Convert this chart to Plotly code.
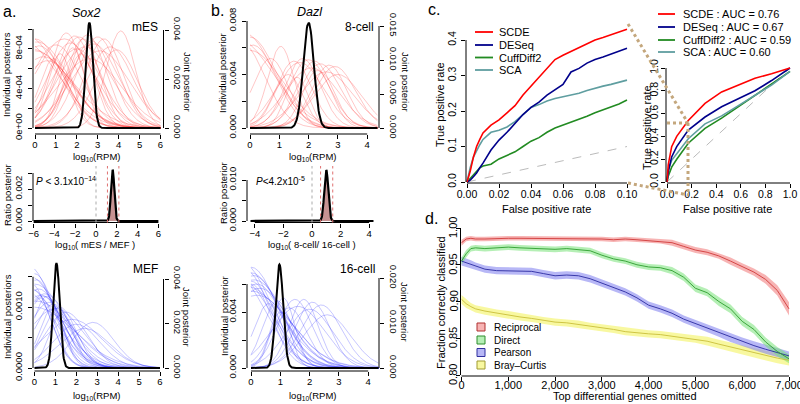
import numpy as np
import plotly.graph_objects as go

W, H = 800, 404
FONT = "Liberation Sans, Arial, Helvetica, sans-serif"

# ======================= DATA =======================
# Panel a: Sox2, individual-cell posteriors (mode, spread, peak height) on log10(RPM)
mes_mode = [-0.3, 0.0, 0.1, -0.6, 0.2, -0.2, 0.0, 0.4, 0.6, 1.5, 1.9, 2.1, 2.3, 2.5, 2.7, 3.0,
            3.3, 4.1, 1.2, 0.9, 2.0, 2.4, 1.7, 2.8, 3.6, 2.2, 1.4, 3.1, 2.6, 1.0, 3.9, 1.8]
mes_sd = [1.4, 1.3, 1.5, 1.7, 1.2, 1.9, 1.6, 1.4, 1.3, 0.8, 0.9, 1.0, 0.8, 0.9, 1.0, 1.0,
          0.9, 0.7, 0.6, 0.7, 1.2, 1.3, 1.1, 1.2, 1.1, 0.7, 1.4, 1.4, 1.5, 1.2, 1.0, 0.6]
mes_height = [0.00092, 0.00090, 0.00087, 0.00088, 0.00083, 0.00080, 0.00078, 0.00072, 0.00068,
              0.00096, 0.00093, 0.00092, 0.00090, 0.00094, 0.00088, 0.00092, 0.00090, 0.00098,
              0.00075, 0.00070, 0.00080, 0.00082, 0.00086, 0.00085, 0.00082, 0.00075, 0.00090,
              0.00078, 0.00070, 0.00084, 0.00079, 0.00081]

mef_mode = [-0.3, 0.0, -0.2, 0.1, 0.0, -0.5, 0.2, 0.0, -0.4, 0.3, 0.0, 0.1, -0.2, 0.4,
            0.6, 0.9, 1.2, 1.5, 1.0, 0.8, 2.0, 2.8, 1.8, 0.5, 2.4, 1.3, 0.3, 0.7]
mef_sd = [1.2, 1.0, 1.3, 0.9, 1.5, 1.6, 1.1, 0.8, 1.4, 1.2, 1.9, 1.7, 0.9, 1.0,
          0.7, 0.9, 0.8, 1.0, 1.3, 0.6, 1.1, 1.0, 1.4, 1.2, 1.2, 0.6, 0.7, 1.0]
mef_height = [0.00168, 0.00155, 0.00150, 0.00145, 0.00138, 0.00135, 0.00130, 0.00128, 0.00125,
              0.00120, 0.00100, 0.00110, 0.00140, 0.00118, 0.00118, 0.00105, 0.00100, 0.00092,
              0.00098, 0.00095, 0.00072, 0.00075, 0.00080, 0.00122, 0.00065, 0.00088, 0.00115,
              0.00108]

# Panel b: Dazl
c8_mode = [-0.2, 0.0, -0.4, 0.1, 0.0, -0.3, 1.05, 1.5, 1.8, 2.0, 2.2, 2.4, 2.7, 2.9, 1.7,
           2.1, 2.6, 1.3, 3.0, 0.7, 2.3, 1.6]
c8_sd = [1.0, 0.9, 1.2, 0.8, 1.1, 0.8, 0.45, 0.6, 0.6, 0.7, 0.6, 0.7, 0.6, 0.7, 0.8,
         0.9, 0.9, 0.5, 0.8, 0.6, 0.5, 0.4]
c8_height = [0.0071, 0.0068, 0.0066, 0.0062, 0.0058, 0.0064, 0.0061, 0.0050, 0.0052, 0.0051,
             0.0050, 0.0048, 0.0047, 0.0046, 0.0049, 0.0045, 0.0042, 0.0040, 0.0040, 0.0052,
             0.0043, 0.0038]

c16_mode = [-0.3, 0.0, -0.2, 0.0, 0.1, -0.4, 0.0, 0.2, -0.1, 0.0, 0.3, -0.5, 0.1, 0.0, 0.2,
            1.1, 1.5, 1.8, 2.1, 2.4, 1.3, 1.0, 2.0, 2.6, 0.6, 1.6, 0.9]
c16_sd = [1.0, 0.9, 0.85, 1.0, 0.95, 1.1, 0.8, 0.9, 1.2, 1.3, 1.0, 1.0, 1.1, 0.7, 1.2,
          0.4, 0.6, 0.5, 0.6, 0.7, 0.6, 0.35, 0.8, 0.8, 0.5, 0.9, 0.5]
c16_height = [0.0075, 0.0072, 0.0070, 0.0068, 0.0066, 0.0064, 0.0062, 0.0060, 0.0058, 0.0055,
              0.0057, 0.0066, 0.0063, 0.0060, 0.0052, 0.0050, 0.0049, 0.0049, 0.0047, 0.0045,
              0.0043, 0.0040, 0.0042, 0.0038, 0.0046, 0.0044, 0.0048]

# joint posteriors: mES, MEF, 8-cell, 16-cell
joint_mode = [2.6, 1.05, 2.0, 0.97]
joint_sd = [0.17, 0.16, 0.18, 0.13]
joint_height = [0.0043, 0.0047, 0.0155, 0.023]

# ratio posteriors: Sox2 (mES/MEF), Dazl (8-cell/16-cell)
ratio_mode = [1.6, 1.0]
ratio_sd = [0.16, 0.14]
ratio_height = [0.0032, 0.0124]
ratio_ci_low = [1.1, 0.6]
ratio_ci_high = [2.2, 1.45]
ratio_p = ["<i>P</i> < 3.1x10<sup>\u221214</sup>", "<i>P</i><4.2x10<sup>-5</sup>"]

# Panel c: ROC
methods = ["SCDE", "DESeq", "CuffDiff2", "SCA"]
auc = ["0.76", "0.67", "0.59", "0.60"]
fpr_zoom = [0, 0.002, 0.004, 0.006, 0.008, 0.01, 0.015, 0.02, 0.025, 0.03, 0.035, 0.04,
            0.045, 0.05, 0.055, 0.06, 0.065, 0.07, 0.075, 0.08, 0.085, 0.09, 0.095, 0.10]
tpr_zoom_scde = [0, 0.03, 0.07, 0.10, 0.12, 0.138, 0.16, 0.175, 0.195, 0.215, 0.245, 0.27,
                 0.295, 0.32, 0.345, 0.357, 0.368, 0.378, 0.39, 0.40, 0.407, 0.415, 0.422, 0.43]
tpr_zoom_deseq = [0, 0.005, 0.015, 0.025, 0.04, 0.053, 0.09, 0.118, 0.14, 0.165, 0.19, 0.21,
                  0.225, 0.245, 0.26, 0.275, 0.31, 0.32, 0.335, 0.345, 0.352, 0.36, 0.368, 0.377]
tpr_zoom_cuff = [0, 0.01, 0.02, 0.03, 0.04, 0.045, 0.05, 0.065, 0.075, 0.085, 0.10, 0.115,
                 0.125, 0.14, 0.152, 0.16, 0.168, 0.175, 0.185, 0.195, 0.203, 0.21, 0.22, 0.231]
tpr_zoom_sca = [0, 0.04, 0.07, 0.09, 0.105, 0.12, 0.14, 0.146, 0.155, 0.17, 0.19, 0.21,
                0.218, 0.228, 0.235, 0.24, 0.245, 0.25, 0.258, 0.265, 0.27, 0.275, 0.281, 0.287]
fpr_full = [0, 0.01, 0.038, 0.079, 0.173, 0.309, 0.444, 0.58, 0.715, 0.85, 1.0]
tpr_full_scde = [0, 0.15, 0.31, 0.40, 0.54, 0.69, 0.79, 0.85, 0.91, 0.95, 1.0]
tpr_full_deseq = [0, 0.09, 0.22, 0.31, 0.456, 0.57, 0.66, 0.73, 0.80, 0.89, 1.0]
tpr_full_cuff = [0, 0.05, 0.13, 0.20, 0.34, 0.47, 0.56, 0.66, 0.76, 0.86, 0.97]
tpr_full_sca = [0, 0.10, 0.19, 0.25, 0.38, 0.51, 0.58, 0.67, 0.76, 0.85, 0.97]

# Panel d
d_names = ["Reciprocal", "Direct", "Pearson", "Bray\u2013Curtis"]
d_yticks = [0.80, 0.85, 0.90, 0.95, 1.00]
d_yticklabels = ["0.80", "0.85", "0.90", "0.95", "1.00"]
d_genes = [0, 100, 200, 300, 500, 750, 1000, 1250, 1500, 1750, 2000, 2250, 2500, 2750, 3000,
           3250, 3500, 3750, 4000, 4250, 4500, 4750, 5000, 5250, 5500, 5750, 6000, 6250, 6500,
           6750, 7000]
recip_mean = [0.980, 0.985, 0.986, 0.985, 0.985, 0.986, 0.986, 0.986, 0.986, 0.986,
              0.986, 0.986, 0.986, 0.986, 0.985, 0.984, 0.985, 0.984, 0.983, 0.982,
              0.980, 0.975, 0.970, 0.967, 0.962, 0.955, 0.947, 0.940, 0.930, 0.915,
              0.890]
recip_hw = [0.004, 0.003, 0.003, 0.003, 0.003, 0.003, 0.003, 0.003, 0.003, 0.003,
            0.003, 0.003, 0.003, 0.003, 0.003, 0.003, 0.003, 0.003, 0.003, 0.003,
            0.004, 0.004, 0.004, 0.004, 0.004, 0.005, 0.005, 0.005, 0.006, 0.007,
            0.009]
direct_mean = [0.955, 0.965, 0.972, 0.973, 0.972, 0.973, 0.974, 0.973, 0.972, 0.971,
               0.971, 0.972, 0.970, 0.969, 0.963, 0.958, 0.955, 0.950, 0.947, 0.946,
               0.942, 0.933, 0.918, 0.912, 0.900, 0.890, 0.873, 0.862, 0.845, 0.832,
               0.822]
direct_hw = [0.005, 0.005, 0.004, 0.004, 0.004, 0.004, 0.004, 0.004, 0.004, 0.004,
             0.004, 0.004, 0.004, 0.004, 0.004, 0.004, 0.004, 0.004, 0.004, 0.004,
             0.005, 0.005, 0.005, 0.005, 0.006, 0.006, 0.006, 0.006, 0.006, 0.006,
             0.006]
pearson_mean = [0.955, 0.953, 0.950, 0.948, 0.944, 0.942, 0.942, 0.941, 0.941, 0.938,
                0.935, 0.936, 0.935, 0.931, 0.925, 0.920, 0.913, 0.905, 0.895, 0.890,
                0.884, 0.876, 0.870, 0.863, 0.857, 0.851, 0.845, 0.840, 0.835, 0.830,
                0.826]
pearson_hw = [0.006, 0.006, 0.006, 0.005, 0.005, 0.005, 0.005, 0.005, 0.005, 0.005,
              0.005, 0.005, 0.005, 0.005, 0.005, 0.005, 0.005, 0.005, 0.005, 0.005,
              0.005, 0.005, 0.005, 0.005, 0.005, 0.006, 0.006, 0.006, 0.006, 0.006,
              0.006]
bray_mean = [0.903, 0.897, 0.893, 0.890, 0.887, 0.884, 0.882, 0.879, 0.877, 0.874,
             0.872, 0.871, 0.869, 0.866, 0.864, 0.862, 0.859, 0.857, 0.856, 0.855,
             0.853, 0.851, 0.849, 0.846, 0.842, 0.838, 0.834, 0.830, 0.826, 0.823,
             0.820]
bray_hw = [0.006, 0.006, 0.005, 0.005, 0.005, 0.005, 0.005, 0.005, 0.005, 0.005,
           0.005, 0.005, 0.005, 0.005, 0.005, 0.005, 0.005, 0.005, 0.005, 0.005,
           0.005, 0.005, 0.005, 0.006, 0.006, 0.006, 0.006, 0.006, 0.007, 0.007,
           0.007]

# ======================= helpers =======================
layout = dict(template="none", width=W, height=H, autosize=False,
              margin=dict(l=0, r=0, t=0, b=0, pad=0), paper_bgcolor="white",
              plot_bgcolor="rgba(0,0,0,0)", showlegend=False,
              font=dict(family=FONT, size=10, color="black"))
shapes, annotations, traces = [], [], []


def lin(pa, va, pb, vb):
    return lambda p: va + (p - pa) * (vb - va) / (pb - pa)


def fx(p):
    return p / W


def fy(p):
    return 1 - p / H


def xr(n):
    return "x" if n == 1 else f"x{n}"


def yr(n):
    return "y" if n == 1 else f"y{n}"


AX = dict(showgrid=False, zeroline=False, showline=False, ticks="outside", ticklen=4,
          tickwidth=1, tickcolor="black", color="black", tickmode="array", automargin=False,
          ticklabeloverflow="allow")


def split_ticks(tickvals, ticktext):
    major = [(v, t) for v, t in zip(tickvals, ticktext) if t != ""]
    minor = [v for v, t in zip(tickvals, ticktext) if t == ""]
    return [v for v, _ in major], [t for _, t in major], minor


def add_x(n, x0, x1, ybot, anchor, cal, tickvals, ticktext, size=9.5, standoff=-2):
    f = lin(*cal)
    layout["xaxis" if n == 1 else f"xaxis{n}"] = dict(
        AX, domain=[fx(x0), fx(x1)], range=[f(x0), f(x1)], anchor=yr(anchor),
        tickvals=tickvals, ticktext=ticktext, ticklabelstandoff=standoff,
        tickfont=dict(family=FONT, size=size, color="black"))
    shapes.append(dict(type="line", xref=xr(n), yref="paper", x0=tickvals[0], x1=tickvals[-1],
                       y0=fy(ybot), y1=fy(ybot), line=dict(color="black", width=1)))


def add_y(n, ytop, ybot, xpos, anchor, cal, tickvals, ticktext, side="left", overlay=None,
          size=9.5, standoff=2, labels=True):
    f = lin(*cal)
    mv, mt, mn = split_ticks(tickvals, ticktext)
    d = dict(AX, domain=[fy(ybot), fy(ytop)], range=[f(ybot), f(ytop)], anchor=xr(anchor),
             side=side, tickvals=mv, ticktext=mt, ticklabelstandoff=standoff,
             tickangle=-90 if side == "left" else 90, showticklabels=labels,
             tickfont=dict(family=FONT, size=size, color="black"))
    if mn:
        d["minor"] = dict(tickmode="array", tickvals=mn, ticks="outside", ticklen=4,
                          tickwidth=1, tickcolor="black", showgrid=False)
    if overlay:
        d["overlaying"] = yr(overlay)
    layout["yaxis" if n == 1 else f"yaxis{n}"] = d
    shapes.append(dict(type="line", xref="paper", yref=yr(n), x0=fx(xpos), x1=fx(xpos),
                       y0=tickvals[0], y1=tickvals[-1], line=dict(color="black", width=1)))


def text(s, x, y, size=10, angle=0, xanchor="center", yanchor="middle"):
    annotations.append(dict(text=s, x=fx(x), y=fy(y), xref="paper", yref="paper",
                            showarrow=False, textangle=angle, xanchor=xanchor,
                            yanchor=yanchor, borderpad=0,
                            font=dict(family=FONT, size=size, color="black")))


def bump(grid, m, s, h):
    return h * np.exp(-0.5 * ((grid - m) / s) ** 2)


def curves(grid, modes, sds, heights, color, xa, ya):
    for m, s, h in zip(modes, sds, heights):
        traces.append(go.Scatter(x=grid, y=bump(grid, m, s, h), mode="lines",
                                 line=dict(color=color, width=0.8), xaxis=xr(xa),
                                 yaxis=yr(ya), hoverinfo="skip"))


def joint(grid, i, xa, ya):
    traces.append(go.Scatter(x=grid, y=bump(grid, joint_mode[i], joint_sd[i], joint_height[i]),
                             mode="lines", line=dict(color="black", width=2),
                             xaxis=xr(xa), yaxis=yr(ya), hoverinfo="skip"))


RED = "rgba(255,20,20,0.30)"
BLUE = "rgba(20,20,255,0.30)"
MINUS = "\u2212"

# ======================= panel a =======================
grid_a = np.linspace(0, 6, 301)
add_x(1, 33, 163.5, 134, 1, (35, 0, 160.5, 6), list(range(7)), [str(v) for v in range(7)])
add_y(1, 19, 134, 33, 1, (128, 0, 29, 0.001), [0, 2e-4, 4e-4, 6e-4, 8e-4, 1e-3],
      ["0e+00", "", "4e-04", "", "8e-04", ""])
add_y(2, 19, 134, 163.5, 1, (128, 0, 30, 0.004), [0, 0.002, 0.004],
      ["0.000", "0.002", "0.004"], side="right", overlay=1)
curves(grid_a, mes_mode, mes_sd, mes_height, RED, 1, 1)
joint(grid_a, 0, 1, 2)
add_x(2, 33, 163.5, 222.5, 3, (96, 0, 158.4, 6), [-6, -4, -2, 0, 2, 4, 6],
      [MINUS + "6", MINUS + "4", MINUS + "2", "0", "2", "4", "6"])
add_y(3, 166, 222.5, 33, 2, (221, 0, 189, 0.002), [0, 0.001, 0.002, 0.003],
      ["0.000", "", "0.002", ""])
add_x(3, 33, 163.5, 371, 4, (34.5, 0, 160, 6), list(range(7)), [str(v) for v in range(7)])
add_y(4, 256, 371, 33, 3, (368, 0, 276.75, 0.0015), [0, 0.0005, 0.001, 0.0015],
      ["0.0000", "", "0.0010", ""])
add_y(5, 256, 371, 163.5, 3, (368, 0, 279, 0.004), [0, 0.002, 0.004],
      ["0.000", "0.002", "0.004"], side="right", overlay=4)
curves(grid_a, mef_mode, mef_sd, mef_height, BLUE, 3, 4)
joint(grid_a, 1, 3, 5)

# ======================= panel b =======================
grid_b = np.linspace(0, 4.35, 261)
add_x(4, 247, 379, 134, 6, (250, 0, 367.2, 4), [0, 1, 2, 3, 4], ["0", "1", "2", "3", "4"])
add_y(6, 19, 134, 247, 4, (128, 0, 21, 0.008), [0, 0.002, 0.004, 0.006, 0.008],
      ["0.000", "", "0.004", "", "0.008"])
add_y(7, 19, 134, 379, 4, (128, 0, 26, 0.015), [0, 0.005, 0.010, 0.015],
      ["0.000", "0.005", "0.010", "0.015"], side="right", overlay=6)
curves(grid_b, c8_mode, c8_sd, c8_height, RED, 4, 6)
joint(grid_b, 2, 4, 7)
add_x(5, 247, 379, 222.5, 8, (312, 0, 340.6, 2), [-4, -2, 0, 2, 4],
      [MINUS + "4", MINUS + "2", "0", "2", "4"])
add_y(8, 166, 222.5, 247, 5, (221, 0, 180, 0.010), [0, 0.005, 0.010],
      ["0.000", "", "0.010"])
add_x(6, 247, 379, 371, 9, (251, 0, 368.2, 4), [0, 1, 2, 3, 4], ["0", "1", "2", "3", "4"])
add_y(9, 256, 371, 247, 6, (368, 0, 312, 0.004), [0, 0.002, 0.004, 0.006],
      ["0.000", "", "0.004", ""])
add_y(10, 256, 371, 379, 6, (368, 0, 323, 0.010), [0, 0.010, 0.020],
      ["0.000", "0.010", "0.020"], side="right", overlay=9)
curves(grid_b, c16_mode, c16_sd, c16_height, BLUE, 6, 9)
joint(grid_b, 3, 6, 10)

ratio_axes = [(2, 3, np.linspace(-6, 6, 601)), (5, 8, np.linspace(-4.3, 4.3, 431))]
ratio_pos = [(35, 181), (255, 181)]
for i, (xa, ya, g) in enumerate(ratio_axes):
    yv = bump(g, ratio_mode[i], ratio_sd[i], ratio_height[i])
    sel = (g >= ratio_ci_low[i]) & (g <= ratio_ci_high[i])
    traces.append(go.Scatter(x=g[sel], y=yv[sel], mode="lines", line=dict(width=0),
                             fill="tozeroy", fillcolor="rgba(196,140,140,0.95)",
                             xaxis=xr(xa), yaxis=yr(ya), hoverinfo="skip"))
    traces.append(go.Scatter(x=g, y=yv, mode="lines", line=dict(color="black", width=2.2),
                             xaxis=xr(xa), yaxis=yr(ya), hoverinfo="skip"))
    for xv, col in [(0, "#AAAAAA"), (ratio_ci_low[i], "#E07070"), (ratio_ci_high[i], "#E07070")]:
        shapes.append(dict(type="line", xref=xr(xa), yref="paper", x0=xv, x1=xv,
                           y0=fy(222.5), y1=fy(166), line=dict(color=col, width=1, dash="dot")))
    text(ratio_p[i], ratio_pos[i][0], ratio_pos[i][1], size=10, xanchor="left")

# ======================= panel c =======================
mcol = ["#FF0000", "#00008B", "#228B22", "#5F9EA0"]
add_x(7, 466, 628, 183, 11, (467, 0, 627, 0.1), [0, 0.02, 0.04, 0.06, 0.08, 0.10],
      ["0.00", "0.02", "0.04", "0.06", "0.08", "0.10"], size=10.5, standoff=-3)
add_y(11, 21, 183, 466, 7, (182, 0, 40, 0.4), [0, 0.1, 0.2, 0.3, 0.4],
      ["0.0", "0.1", "0.2", "0.3", "0.4"], size=10.5, standoff=1)
add_x(8, 666, 791, 183, 12, (667, 0, 790, 1), [0, 0.2, 0.4, 0.6, 0.8, 1.0],
      ["0.0", "0.2", "0.4", "0.6", "0.8", "1.0"], size=10.5, standoff=-3)
add_y(12, 67, 183, 666, 8, (182, 0, 68, 1), [0, 0.2, 0.4, 0.6, 0.8, 1.0],
      ["0.0", "0.2", "0.4", "0.6", "0.8", "1.0"], size=10.5, standoff=-1)

traces.append(go.Scatter(x=[0, 0.1], y=[0, 0.1], mode="lines", xaxis="x7", yaxis="y11",
                         line=dict(color="#BBBBBB", width=1, dash="dash"), hoverinfo="skip"))
traces.append(go.Scatter(x=[0, 1], y=[0, 1], mode="lines", xaxis="x8", yaxis="y12",
                         line=dict(color="#BBBBBB", width=1, dash="dash"), hoverinfo="skip"))
zoom_sets = [tpr_zoom_cuff, tpr_zoom_sca, tpr_zoom_deseq, tpr_zoom_scde]
full_sets = [tpr_full_cuff, tpr_full_sca, tpr_full_deseq, tpr_full_scde]
order = [2, 3, 1, 0]
for k, idx in enumerate(order):
    traces.append(go.Scatter(x=fpr_zoom, y=zoom_sets[k], mode="lines", xaxis="x7", yaxis="y11",
                             line=dict(color=mcol[idx], width=1.6), hoverinfo="skip"))
    traces.append(go.Scatter(x=fpr_full, y=full_sets[k], mode="lines", xaxis="x8", yaxis="y12",
                             line=dict(color=mcol[idx], width=1.6), hoverinfo="skip"))

TAN = "#C4A77D"
for (xa0, ya0, xa1, ya1) in [(628, 24, 688, 123), (628, 183, 688, 195),
                             (667, 123, 688, 123), (688, 123, 688, 195)]:
    shapes.append(dict(type="line", xref="paper", yref="paper", x0=fx(xa0), y0=fy(ya0),
                       x1=fx(xa1), y1=fy(ya1), line=dict(color=TAN, width=3, dash="dot")))

for i, name in enumerate(methods):
    yy = [32, 45, 57.5, 70][i]
    shapes.append(dict(type="line", xref="paper", yref="paper", x0=fx(475), x1=fx(493),
                       y0=fy(yy), y1=fy(yy), line=dict(color=mcol[i], width=1.8)))
    text(name, 498, yy, size=11, xanchor="left")
    yy2 = [14, 27, 40, 52][i]
    shapes.append(dict(type="line", xref="paper", yref="paper", x0=fx(658), x1=fx(675),
                       y0=fy(yy2), y1=fy(yy2), line=dict(color=mcol[i], width=1.8)))
    text(f"{name} : AUC = {auc[i]}", 682, yy2, size=11, xanchor="left")

# ======================= panel d =======================
add_x(9, 460.5, 790, 376, 13, (461.5, 0, 789, 7000), [0, 1000, 2000, 3000, 4000, 5000, 6000, 7000],
      [f"{v:,}" for v in [0, 1000, 2000, 3000, 4000, 5000, 6000, 7000]], size=11, standoff=-5)
d_ycal = (375, 0.80, 228, 1.00)
add_y(13, 221, 376, 460.5, 9, d_ycal, d_yticks, d_yticklabels, size=11, standoff=-2,
      labels=False)
d_pix = lin(d_ycal[1], d_ycal[0], d_ycal[3], d_ycal[2])
for v, lab in zip(d_yticks, d_yticklabels):
    text(lab, 453, d_pix(v), size=11, angle=-90)
d_means = [recip_mean, direct_mean, pearson_mean, bray_mean]
d_hws = [recip_hw, direct_hw, pearson_hw, bray_hw]
d_fill = ["rgba(242,140,140,0.65)", "rgba(120,225,120,0.55)", "rgba(135,135,240,0.6)",
          "rgba(245,245,120,0.7)"]
d_line = ["#D03A3A", "#2E9E2E", "#2A2AA0", "#C9BE3A"]
d_edge = ["#B03030", "#2E8E2E", "#3030A0", "#A09A30"]
for i in [3, 2, 1, 0]:
    m = np.array(d_means[i])
    hw = np.array(d_hws[i])
    traces.append(go.Scatter(x=d_genes, y=m + hw, mode="lines", line=dict(width=0),
                             xaxis="x9", yaxis="y13", hoverinfo="skip"))
    traces.append(go.Scatter(x=d_genes, y=m - hw, mode="lines", line=dict(width=0),
                             fill="tonexty", fillcolor=d_fill[i], xaxis="x9", yaxis="y13",
                             hoverinfo="skip"))
for i in [3, 2, 1, 0]:
    traces.append(go.Scatter(x=d_genes, y=d_means[i], mode="lines",
                             line=dict(color=d_line[i], width=0.9), xaxis="x9", yaxis="y13",
                             hoverinfo="skip"))
for i, name in enumerate(d_names):
    yy = [327, 340, 352.5, 365][i]
    shapes.append(dict(type="rect", xref="paper", yref="paper", x0=fx(477), x1=fx(485),
                       y0=fy(yy + 4), y1=fy(yy - 4), fillcolor=d_fill[i],
                       line=dict(color=d_edge[i], width=1)))
    text(name, 493, yy, size=10, xanchor="left")

# ======================= titles and labels =======================
text("a.", 2, 11, size=16, xanchor="left")
text("<i>Sox2</i>", 86, 13, size=12.5)
text("mES", 145, 27, size=12)
text("MEF", 145, 269, size=12)
text("b.", 210, 10, size=16, xanchor="left")
text("<i>Dazl</i>", 310, 12, size=12.5)
text("8-cell", 359, 27, size=12)
text("16-cell", 357, 269, size=12)
text("c.", 427, 9, size=16, xanchor="left")
text("d.", 424, 218, size=16, xanchor="left")

text("Individual posteriors", 7, 75, size=9.5, angle=-90)
text("Individual posteriors", 7, 317, size=9.5, angle=-90)
text("Ratio posterior", 7, 195, size=9.5, angle=-90)
text("Joint posterior", 187, 82, size=9.5, angle=90)
text("Joint posterior", 187, 317, size=9.5, angle=90)
text("log<sub>10</sub>(RPM)", 97, 157, size=9.5)
text("log<sub>10</sub>(RPM)", 97, 396, size=9.5)
text("log<sub>10</sub>( mES / MEF )", 95, 245, size=9.5)

text("Individual posterior", 223, 73, size=9.5, angle=-90)
text("Individual posterior", 224, 316, size=9.5, angle=-90)
text("Ratio posterior", 223, 193, size=9.5, angle=-90)
text("Joint posterior", 405, 82, size=9.5, angle=90)
text("Joint posterior", 405, 312, size=9.5, angle=90)
text("log<sub>10</sub>(RPM)", 313, 157, size=9.5)
text("log<sub>10</sub>(RPM)", 313, 396, size=9.5)
text("log<sub>10</sub>( 8-cell/ 16-cell )", 312, 245, size=9.5)

text("True positive rate", 440, 105, size=11, angle=-90)
text("False positive rate", 546, 209, size=11)
text("True positive rate", 647, 128, size=11, angle=-90)
text("False positive rate", 727, 209, size=11)
text("Fraction correctly classified", 441, 303, size=11, angle=-90)
text("Top differential genes omitted", 625, 396, size=11)

layout["shapes"] = shapes
layout["annotations"] = annotations
fig = go.Figure(data=traces, layout=layout)
fig.write_html("out.html", config={"displayModeBar": False},
               post_script="document.body.style.margin='0';")
